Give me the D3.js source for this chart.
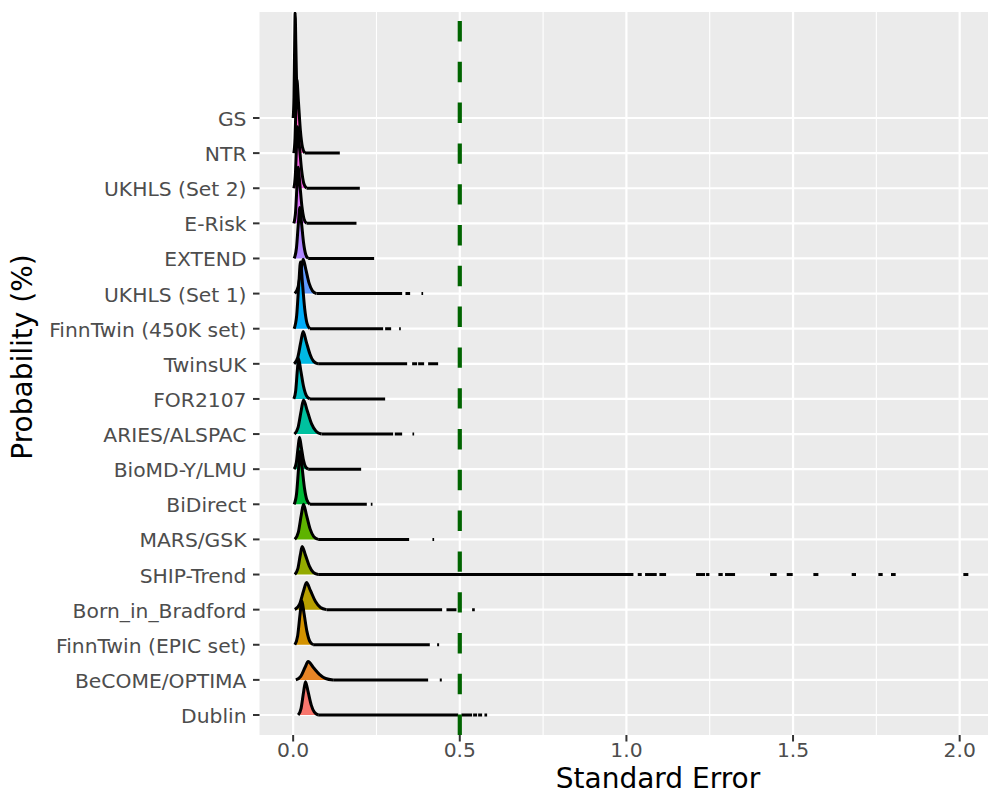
<!DOCTYPE html>
<html lang="en">
<meta charset="utf-8">
<head>
	<title>Standard Error ridges</title>
	<script src="https://d3js.org/d3.v7.min.js"></script>
</head>

<style type="text/css">
	body { margin: 0; background: white; }
	.tickLabel {
		font-family: 'DejaVu Sans', sans-serif;
		font-size: 20.3px;
		fill: #4D4D4D;
	}
	.axisTitle {
		font-family: 'DejaVu Sans', sans-serif;
		font-size: 28px;
		fill: black;
	}
</style>

<body>
<script type="text/javascript">

	// cohorts, bottom row first
	var categories = ["Dublin", "BeCOME/OPTIMA", "FinnTwin (EPIC set)", "Born_in_Bradford", "SHIP-Trend",
		"MARS/GSK", "BiDirect", "BioMD-Y/LMU", "ARIES/ALSPAC", "FOR2107", "TwinsUK", "FinnTwin (450K set)",
		"UKHLS (Set 1)", "EXTEND", "E-Risk", "UKHLS (Set 2)", "NTR", "GS"];

	// density outline per cohort: [standard error, height in rows]
	var densities = [
		[[0.015,0],[0.0238,0.19],[0.0315,0.67],[0.037,0.95],[0.0446,0.67],[0.0541,0.29],[0.0636,0.08],[0.075,0]],
		[[0.008,0],[0.0228,0.1],[0.0358,0.36],[0.045,0.52],[0.06,0.36],[0.0788,0.16],[0.0975,0.04],[0.12,0]],
		[[0.005,0],[0.0134,0.25],[0.0208,0.88],[0.026,1.25],[0.0328,0.88],[0.0413,0.38],[0.0498,0.1],[0.06,0]],
		[[0.005,0],[0.019,0.15],[0.0313,0.54],[0.04,0.77],[0.052,0.54],[0.067,0.23],[0.082,0.06],[0.1,0]],
		[[0.005,0],[0.0138,0.16],[0.0215,0.56],[0.027,0.8],[0.0366,0.56],[0.0486,0.24],[0.0606,0.06],[0.075,0]],
		[[0.005,0],[0.0154,0.2],[0.0245,0.7],[0.031,1.0],[0.0398,0.7],[0.0508,0.3],[0.0618,0.08],[0.075,0]],
		[[0.003,0],[0.0102,0.3],[0.0165,1.05],[0.021,1.5],[0.0268,1.05],[0.0341,0.45],[0.0413,0.12],[0.05,0]],
		[[0.003,0],[0.0094,0.18],[0.015,0.64],[0.019,0.91],[0.0242,0.64],[0.0307,0.27],[0.0372,0.07],[0.045,0]],
		[[0.004,0],[0.0148,0.19],[0.0243,0.68],[0.031,0.97],[0.0418,0.68],[0.0553,0.29],[0.0688,0.08],[0.085,0]],
		[[0.002,0],[0.0076,0.23],[0.0125,0.81],[0.016,1.15],[0.0228,0.81],[0.0313,0.35],[0.0398,0.09],[0.05,0]],
		[[0.003,0],[0.0138,0.18],[0.0233,0.64],[0.03,0.92],[0.039,0.64],[0.0503,0.28],[0.0615,0.07],[0.075,0]],
		[[0.003,0],[0.0106,0.38],[0.0173,1.33],[0.022,1.9],[0.0276,1.33],[0.0346,0.57],[0.0416,0.15],[0.05,0]],
		[[0.005,0],[0.015,0.2],[0.0238,0.69],[0.03,0.98],[0.038,0.69],[0.048,0.29],[0.058,0.08],[0.07,0]],
		[[0.003,0],[0.0098,0.29],[0.0158,1.02],[0.02,1.45],[0.025,1.02],[0.0313,0.44],[0.0375,0.12],[0.045,0]],
		[[0.002,0],[0.0072,0.32],[0.0118,1.12],[0.015,1.6],[0.02,1.12],[0.0263,0.48],[0.0325,0.13],[0.04,0]],
		[[0.002,0],[0.0064,0.35],[0.0103,1.23],[0.013,1.75],[0.0184,1.23],[0.0252,0.53],[0.0319,0.14],[0.04,0]],
		[[0.002,0],[0.0056,0.42],[0.0088,1.47],[0.011,2.1],[0.0158,1.47],[0.0218,0.63],[0.0278,0.17],[0.035,0]],
		[[0,0],[0.0024,0.6],[0.0045,2.1],[0.006,3.0],[0.008,2.1],[0.0105,0.9],[0.013,0.24],[0.016,0]]
	];

	// flat tail of each outline, [from, to] in standard error
	var tails = [
		[[0.075,0.495],[0.505,0.537],[0.54,0.552],[0.555,0.567],[0.574,0.582]],
		[[0.12,0.405],[0.44,0.446]],
		[[0.06,0.41],[0.432,0.438]],
		[[0.1,0.447],[0.46,0.49],[0.537,0.545]],
		[[0.075,1.021],[1.034,1.046],[1.056,1.091],[1.099,1.119],[1.209,1.236],[1.239,1.249],[1.276,1.289],
		 [1.296,1.326],[1.431,1.451],[1.481,1.499],[1.561,1.576],[1.676,1.689],[1.756,1.769],[1.794,1.808],[2.011,2.026]],
		[[0.075,0.348],[0.418,0.423]],
		[[0.05,0.221],[0.233,0.238]],
		[[0.045,0.204]],
		[[0.085,0.3],[0.305,0.327],[0.358,0.363]],
		[[0.05,0.276]],
		[[0.075,0.342],[0.357,0.372],[0.375,0.393],[0.405,0.435]],
		[[0.05,0.27],[0.276,0.294],[0.318,0.323]],
		[[0.07,0.327],[0.337,0.351],[0.385,0.39]],
		[[0.045,0.243]],
		[[0.04,0.19]],
		[[0.04,0.2]],
		[[0.035,0.14]],
		[]
	];

	var xTicks = [0, 0.5, 1, 1.5, 2],
		xTickLabels = ["0.0", "0.5", "1.0", "1.5", "2.0"],
		xMinor = [0.25, 0.75, 1.25, 1.75],
		threshold = 0.5;

	// ggplot hue palette (polar LUV)
	function hclHex(h, c, l) {
		var hr = h * Math.PI / 180,
			u = c * Math.cos(hr),
			v = c * Math.sin(hr),
			Xn = 95.047, Yn = 100, Zn = 108.883,
			den = Xn + 15 * Yn + 3 * Zn,
			un = 4 * Xn / den, vn = 9 * Yn / den;
		var Y = Yn * (l > 8 ? Math.pow((l + 16) / 116, 3) : l / 903.3);
		var up = u / (13 * l) + un, vp = v / (13 * l) + vn;
		var X = 9 * Y * up / (4 * vp);
		var Z = -X / 3 - 5 * Y + 3 * Y / vp;
		X /= 100; Y /= 100; Z /= 100;
		var rgb = [
			3.240479 * X - 1.537150 * Y - 0.498535 * Z,
			-0.969256 * X + 1.875992 * Y + 0.041556 * Z,
			0.055648 * X - 0.204043 * Y + 1.057311 * Z
		].map(function(t) {
			t = t <= 0.0031308 ? 12.92 * t : 1.055 * Math.pow(t, 1 / 2.4) - 0.055;
			return Math.round(255 * Math.max(0, Math.min(1, t)));
		});
		return d3.rgb(rgb[0], rgb[1], rgb[2]).formatHex();
	}
	var n = categories.length;
	var colour = d3.scaleOrdinal()
		.domain(categories)
		.range(categories.map(function(d, i) { return hclHex(15 + 360 * i / n, 100, 65); }));

	var width = 990, height = 796,
		panel = {left: 259.5, right: 988, top: 12, bottom: 735};

	var svg = d3.select("body").append("svg")
		.attr("width", width)
		.attr("height", height);

	var x = d3.scaleLinear()
		.domain([-0.101, 2.085])
		.range([panel.left, panel.right]);

	var y = d3.scalePoint()
		.domain(categories)
		.range([715, 118]);
	var rowH = y.step();

	// panel
	svg.append("rect")
		.attr("x", panel.left)
		.attr("y", panel.top)
		.attr("width", panel.right - panel.left)
		.attr("height", panel.bottom - panel.top)
		.attr("fill", "#EBEBEB");

	svg.append("clipPath").attr("id", "panelClip")
		.append("rect")
		.attr("x", panel.left).attr("y", panel.top)
		.attr("width", panel.right - panel.left)
		.attr("height", panel.bottom - panel.top);

	var plot = svg.append("g").attr("clip-path", "url(#panelClip)");

	// grid
	plot.selectAll(".minor").data(xMinor).enter().append("line")
		.attr("x1", function(d) { return x(d); })
		.attr("x2", function(d) { return x(d); })
		.attr("y1", panel.top).attr("y2", panel.bottom)
		.attr("stroke", "white").attr("stroke-width", 1.1);

	plot.selectAll(".majorX").data(xTicks).enter().append("line")
		.attr("x1", function(d) { return x(d); })
		.attr("x2", function(d) { return x(d); })
		.attr("y1", panel.top).attr("y2", panel.bottom)
		.attr("stroke", "white").attr("stroke-width", 2.2);

	plot.selectAll(".majorY").data(categories).enter().append("line")
		.attr("x1", panel.left).attr("x2", panel.right)
		.attr("y1", function(d) { return y(d); })
		.attr("y2", function(d) { return y(d); })
		.attr("stroke", "white").attr("stroke-width", 2.2);

	// ridges, top row first so lower ridges overlap
	var area = d3.area()
		.x(function(d) { return x(d[0]); })
		.y1(function(d) { return d[1] * rowH; })
		.y0(0)
		.curve(d3.curveMonotoneX);

	var outline = d3.line()
		.x(function(d) { return x(d[0]); })
		.y(function(d) { return d[1] * rowH; })
		.curve(d3.curveMonotoneX);

	for (var i = n - 1; i >= 0; i--) {
		var g = plot.append("g")
			.attr("transform", "translate(0," + y(categories[i]) + ") scale(1,-1)");

		g.append("path")
			.datum(densities[i])
			.attr("d", area)
			.attr("fill", colour(categories[i]));

		g.append("path")
			.datum(densities[i])
			.attr("d", outline)
			.attr("fill", "none")
			.attr("stroke", "black")
			.attr("stroke-width", 3)
			.attr("stroke-linejoin", "round");

		g.selectAll(".tail").data(tails[i]).enter().append("line")
			.attr("x1", function(d) { return x(d[0]); })
			.attr("x2", function(d) { return x(d[1]); })
			.attr("y1", 0).attr("y2", 0)
			.attr("stroke", "black")
			.attr("stroke-width", 3);
	}

	// threshold line
	plot.append("line")
		.attr("x1", x(threshold)).attr("x2", x(threshold))
		.attr("y1", panel.bottom).attr("y2", panel.top)
		.attr("stroke", "#006400")
		.attr("stroke-width", 4.2)
		.attr("stroke-dasharray", "20.4,20.4");

	// y axis
	svg.selectAll(".yTick").data(categories).enter().append("line")
		.attr("x1", panel.left - 6.5).attr("x2", panel.left)
		.attr("y1", function(d) { return y(d); })
		.attr("y2", function(d) { return y(d); })
		.attr("stroke", "#333333").attr("stroke-width", 2);

	svg.selectAll(".yLabel").data(categories).enter().append("text")
		.attr("class", "tickLabel")
		.attr("text-anchor", "end")
		.attr("dominant-baseline", "central")
		.attr("x", panel.left - 13)
		.attr("y", function(d) { return y(d) + 1; })
		.text(function(d) { return d; });

	// x axis
	svg.selectAll(".xTick").data(xTicks).enter().append("line")
		.attr("x1", function(d) { return x(d); })
		.attr("x2", function(d) { return x(d); })
		.attr("y1", panel.bottom).attr("y2", panel.bottom + 6.5)
		.attr("stroke", "#333333").attr("stroke-width", 2);

	svg.selectAll(".xLabel").data(xTicks).enter().append("text")
		.attr("class", "tickLabel")
		.attr("text-anchor", "middle")
		.attr("x", function(d) { return x(d); })
		.attr("y", panel.bottom + 22)
		.text(function(d, i) { return xTickLabels[i]; });

	svg.append("text")
		.attr("class", "axisTitle")
		.attr("text-anchor", "middle")
		.attr("x", 658)
		.attr("y", 788)
		.text("Standard Error");

	svg.append("text")
		.attr("class", "axisTitle")
		.attr("text-anchor", "middle")
		.attr("transform", "translate(32," + 357 + ") rotate(-90)")
		.text("Probability (%)");

</script>
</body>
</html>
